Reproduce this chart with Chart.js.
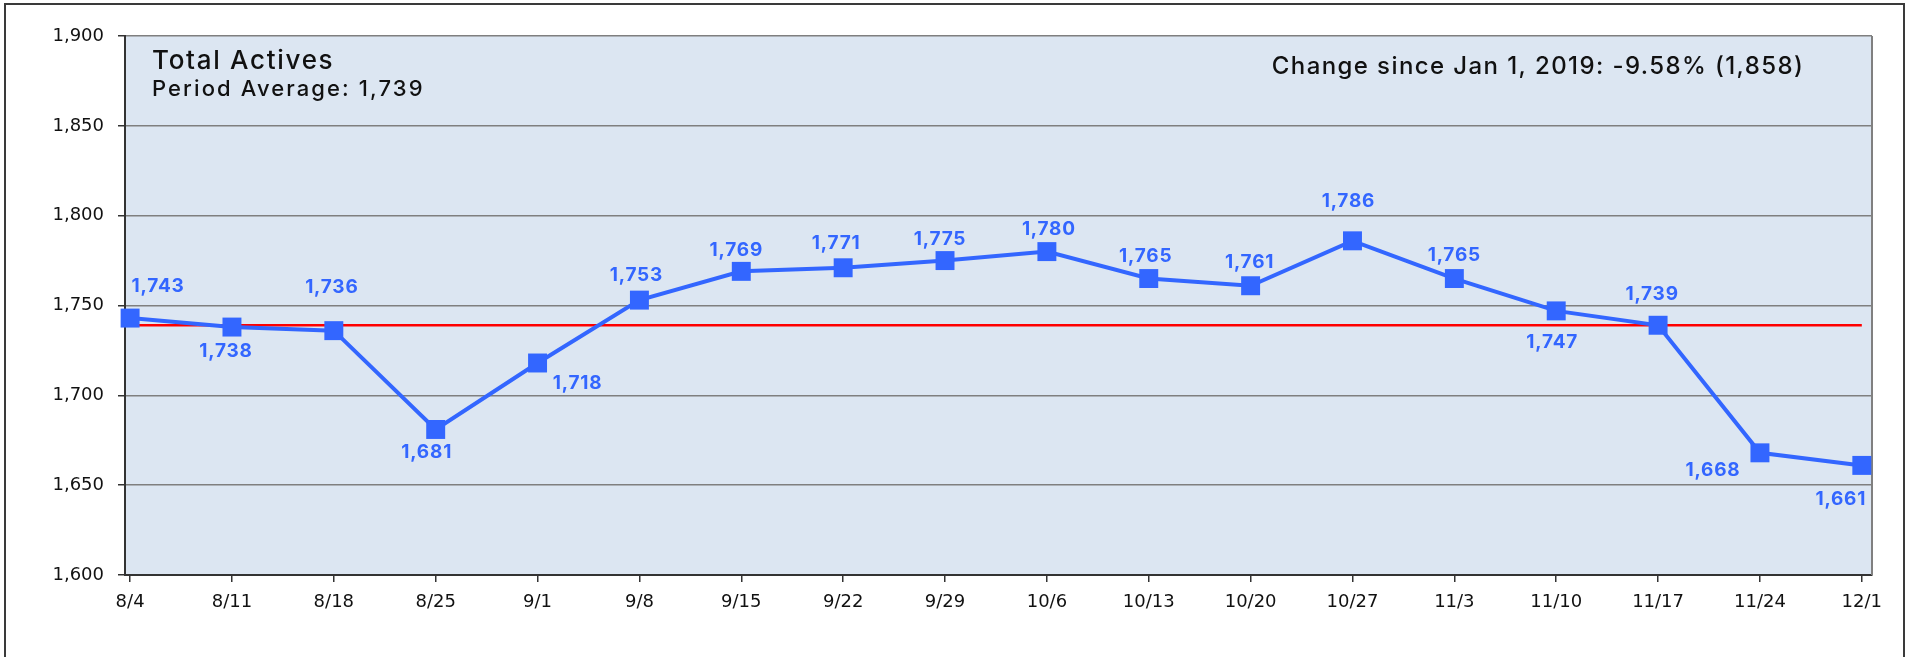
<!DOCTYPE html>
<html lang="en">
<head>
  <meta charset="UTF-8">
  <title>Total Actives</title>
  <script src="https://cdn.jsdelivr.net/npm/chart.js@4"></script>
  <style>
    * { margin: 0; padding: 0; box-sizing: border-box; }
    body { width: 1912px; height: 657px; background: #fff; overflow: hidden; position: relative; }
    .frame { position: absolute; left: 4px; top: 3px; width: 1901px; height: 800px; border: 2px solid #3a3a3a; }
    canvas { position: absolute; left: 0; top: 0; }
  </style>
</head>
<body>
  <div class="frame"></div>
  <canvas id="chart" width="1912" height="657"></canvas>

  <script>
    const weeks = ['8/4', '8/11', '8/18', '8/25', '9/1', '9/8', '9/15', '9/22', '9/29', '10/6',
      '10/13', '10/20', '10/27', '11/3', '11/10', '11/17', '11/24', '12/1']
    const totalActives = [1743, 1738, 1736, 1681, 1718, 1753, 1769, 1771, 1775, 1780,
      1765, 1761, 1786, 1765, 1747, 1739, 1668, 1661]
    const periodAverage = 1739
    const yTickValues = [1600, 1650, 1700, 1750, 1800, 1850, 1900]
    const titleText = 'Total Actives'
    const averageText = 'Period Average: 1,739'
    const changeText = 'Change since Jan 1, 2019: -9.58% (1,858)'

    // where each value label sits relative to its marker (px)
    const labelOffsets = [[28, -32], [-6, 24], [-2, -43], [-9, 23], [40, 20], [-3, -25], [-5, -21],
      [-7, -24], [-5, -21], [2, -22], [-3, -22], [-1, -23], [-4, -40], [0, -23], [-4, 31],
      [-6, -31], [-47, 17], [-21, 34]]

    const TEXT_FONT = 'Inter, "Open Sans", sans-serif'
    const TICK_FONT = '"DejaVu Sans", Verdana, sans-serif'
    const BLUE = '#3366ff'
    const fmt = v => v.toLocaleString('en-US')

    const plotDecor = {
      id: 'plotDecor',
      beforeDraw(chart) {
        const { ctx, chartArea: a } = chart
        ctx.save()
        ctx.fillStyle = '#dce6f2'
        ctx.fillRect(a.left, a.top, a.right - a.left, a.bottom - a.top)
        ctx.restore()
      },
      beforeDatasetsDraw(chart) {
        const { ctx, chartArea: a } = chart
        ctx.save()
        ctx.strokeStyle = '#808080'
        ctx.lineWidth = 2
        ctx.beginPath()
        ctx.moveTo(a.right, a.top)
        ctx.lineTo(a.right, a.bottom)
        ctx.stroke()
        ctx.restore()
      },
      afterDraw(chart) {
        const { ctx } = chart
        ctx.save()
        ctx.fillStyle = '#111'
        ctx.textBaseline = 'alphabetic'
        ctx.textAlign = 'left'
        ctx.letterSpacing = '1.7px'
        ctx.font = '500 26px ' + TEXT_FONT
        ctx.fillText(titleText, 152, 69)
        ctx.letterSpacing = '2.1px'
        ctx.font = '500 22px ' + TEXT_FONT
        ctx.fillText(averageText, 152, 96)
        ctx.letterSpacing = '1.4px'
        ctx.textAlign = 'center'
        ctx.font = '500 24px ' + TEXT_FONT
        ctx.fillText(changeText, 1538, 74)

        // value labels
        const meta = chart.getDatasetMeta(0)
        ctx.letterSpacing = '0.8px'
        ctx.fillStyle = BLUE
        ctx.font = '700 19px ' + TEXT_FONT
        ctx.textBaseline = 'middle'
        meta.data.forEach((pt, i) => {
          ctx.fillText(fmt(totalActives[i]), pt.x + labelOffsets[i][0], pt.y + labelOffsets[i][1])
        })
        ctx.restore()
      }
    }

    new Chart(document.getElementById('chart'), {
      type: 'line',
      data: {
        datasets: [
          {
            data: totalActives.map((v, i) => ({ x: i, y: v })),
            borderColor: BLUE,
            backgroundColor: BLUE,
            borderWidth: 4,
            pointStyle: 'rect',
            pointRadius: 13.4,
            pointBorderWidth: 0,
            tension: 0,
            clip: false
          },
          {
            data: weeks.map((_, i) => ({ x: i, y: periodAverage })),
            borderColor: '#ff0000',
            borderWidth: 2.5,
            pointRadius: 0,
            tension: 0
          }
        ]
      },
      options: {
        responsive: false,
        animation: false,
        events: [],
        layout: { padding: { top: 36, right: 40, left: 0, bottom: 0 } },
        plugins: { legend: { display: false }, tooltip: { enabled: false } },
        scales: {
          x: {
            type: 'linear',
            min: -0.05,
            max: 17.1,
            afterBuildTicks: s => { s.ticks = weeks.map((_, i) => ({ value: i })) },
            afterFit: s => { s.height = 82 },
            grid: { drawOnChartArea: false, tickColor: '#333', tickLength: 7, lineWidth: 1.5 },
            border: { color: '#333', width: 2 },
            ticks: {
              autoSkip: false, maxRotation: 0, padding: 10, color: '#111',
              font: { family: TICK_FONT, size: 18 },
              callback: v => weeks[v]
            }
          },
          y: {
            min: 1600,
            max: 1900,
            afterBuildTicks: s => { s.ticks = yTickValues.map(v => ({ value: v })) },
            afterFit: s => { s.width = 125 },
            grid: { color: '#7f7f7f', lineWidth: 1.5, tickColor: '#333', tickLength: 7 },
            border: { color: '#333', width: 2 },
            ticks: {
              padding: 14, color: '#111',
              font: { family: TICK_FONT, size: 18 },
              callback: v => fmt(v)
            }
          }
        }
      },
      plugins: [plotDecor]
    })
  </script>
</body>
</html>
